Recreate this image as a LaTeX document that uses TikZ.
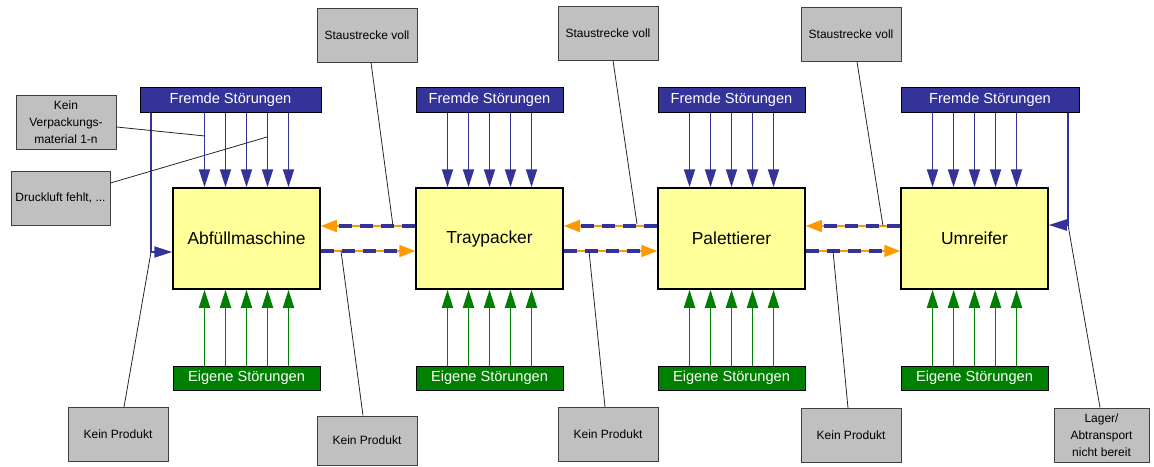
\documentclass[tikz,border=0pt]{standalone}
\usepackage{fontspec}
\setmainfont{Liberation Sans}
\usetikzlibrary{positioning, arrows.meta}
\definecolor{fremdblau}{RGB}{51,51,153}
\definecolor{eigengruen}{RGB}{0,128,0}
\definecolor{maschgelb}{RGB}{255,255,153}
\definecolor{kastengrau}{RGB}{192,192,192}
\definecolor{flussorange}{RGB}{255,153,0}
\tikzstyle{maschine}=[rectangle, draw=black, line width=0.75pt, fill=maschgelb, minimum width=73.5pt, minimum height=50.5pt, inner sep=0pt, font=\fontsize{8.7}{10}\selectfont]
\tikzstyle{fremd}=[rectangle, draw=black, line width=0.5pt, fill=fremdblau, text=white, minimum height=12.5pt, inner sep=0pt, font=\fontsize{7.3}{9}\selectfont]
\tikzstyle{eigen}=[rectangle, draw=black, line width=0.5pt, fill=eigengruen, text=white, minimum width=73.5pt, minimum height=12pt, inner sep=0pt, font=\fontsize{7.3}{9}\selectfont]
\tikzstyle{grund}=[rectangle, draw=black!75, line width=0.5pt, fill=kastengrau, minimum width=50pt, minimum height=27pt, inner sep=1pt, align=center, font=\fontsize{6}{8.6}\selectfont]
\tikzstyle{stoerpfeil}=[line width=0.95pt, -{Triangle[length=9pt, width=5.5pt]}]
\tikzstyle{hinweis}=[line width=0.4pt, black!85]
\tikzstyle{fluss}=[draw=flussorange, line width=0.85pt, -{Triangle[length=8pt, width=6pt]},
  postaction={draw=fremdblau, line width=1.65pt, dash pattern=on 6.5pt off 4pt, -, shorten >=8pt}]

\begin{document}
\begin{tikzpicture}[x=0.5pt, y=-0.5pt]
  \useasboundingbox (0,0) rectangle (1154,466);
  % Maschinen
  \node[maschine] (m1) at (246.5,238.5) {Abfüllmaschine};
  \node[maschine] (m2) at (489.5,238.5) {Traypacker};
  \node[maschine] (m3) at (731.5,238.5) {Palettierer};
  \node[maschine] (m4) at (974.5,238.5) {Umreifer};

  % Stoerungen
  \node[fremd, minimum width=90.5pt] (f1) at (230.5,99.5) {Fremde Störungen};
  \node[fremd, minimum width=73.5pt] (f2) at (489.5,99.5) {Fremde Störungen};
  \node[fremd, minimum width=73.5pt] (f3) at (731.5,99.5) {Fremde Störungen};
  \node[fremd, minimum width=89pt] (f4) at (990,99.5) {Fremde Störungen};
  \foreach \m in {1,...,4} {
    \node[eigen] (e\m) at (m\m |- 0,378) {Eigene Störungen};
    \foreach \d in {-21,-10.5,0,10.5,21} {
      \draw[stoerpfeil, fremdblau] ([xshift=\d pt]m\m.north |- f\m.south) -- ([xshift=\d pt]m\m.north);
      \draw[stoerpfeil, eigengruen] ([xshift=\d pt]m\m.south |- e\m.north) -- ([xshift=\d pt]m\m.south);
    }
  }
  \coordinate (ecke1) at (151,252);
  \coordinate (ecke4) at (1068,225);
  \draw[stoerpfeil, fremdblau] (f1.south -| ecke1) -- (ecke1) -- (m1.west |- ecke1);
  \draw[stoerpfeil, fremdblau] (f4.south -| ecke4) -- (ecke4) -- (m4.east |- ecke4);

  % Materialfluss
  \draw[fluss] ([yshift=6.25pt]m2.west) -- ([yshift=6.25pt]m1.east);
  \draw[fluss] ([yshift=-6.25pt]m1.east) -- ([yshift=-6.25pt]m2.west);
  \draw[fluss] ([yshift=6.25pt]m3.west) -- ([yshift=6.25pt]m2.east);
  \draw[fluss] ([yshift=-6.25pt]m2.east) -- ([yshift=-6.25pt]m3.west);
  \draw[fluss] ([yshift=6.25pt]m4.west) -- ([yshift=6.25pt]m3.east);
  \draw[fluss] ([yshift=-6.25pt]m3.east) -- ([yshift=-6.25pt]m4.west);

  % Ursachen
  \node[grund] (stau1) at (367,35) {Staustrecke voll};
  \node[grund] (stau2) at (608,33) {Staustrecke voll};
  \node[grund] (stau3) at (851,34.5) {Staustrecke voll};
  \node[grund] (verp) at (66,122) {Kein\\Verpackungs-\\material 1-n};
  \node[grund, minimum width=49.5pt] (druck) at (60.5,198) {Druckluft fehlt, ...};
  \node[grund] (prod1) at (118,434.5) {Kein Produkt};
  \node[grund, minimum height=24.5pt] (prod2) at (367,440.5) {Kein Produkt};
  \node[grund] (prod3) at (608,434.5) {Kein Produkt};
  \node[grund] (prod4) at (851,435.5) {Kein Produkt};
  \node[grund, minimum width=47.5pt] (lager) at (1101.5,435) {Lager/\\Abtransport\\nicht bereit};

  \coordinate (p1) at (393,226);
  \coordinate (p2) at (637,224);
  \coordinate (p3) at (883,226);
  \coordinate (p4) at (205,136);
  \coordinate (p5) at (267,137);
  \coordinate (p6) at (341,251);
  \coordinate (p7) at (589,251);
  \coordinate (p8) at (833,251);
  \draw[hinweis] ([xshift=2pt]stau1.south) -- (p1);
  \draw[hinweis] ([xshift=2.5pt]stau2.south) -- (p2);
  \draw[hinweis] ([xshift=3pt]stau3.south) -- (p3);
  \draw[hinweis] ([yshift=-2.5pt]verp.east) -- (p4);
  \draw[hinweis] ([yshift=7.5pt]druck.east) -- (p5);
  \draw[hinweis] ([xshift=3pt]prod1.north) -- (ecke1);
  \draw[hinweis] ([xshift=-2pt]prod2.north) -- (p6);
  \draw[hinweis] ([xshift=-1.5pt]prod3.north) -- (p7);
  \draw[hinweis] ([xshift=-1.5pt]prod4.north) -- (p8);
  \draw[hinweis] ([xshift=-0.75pt]lager.north) -- (ecke4);
\end{tikzpicture}
\end{document}
